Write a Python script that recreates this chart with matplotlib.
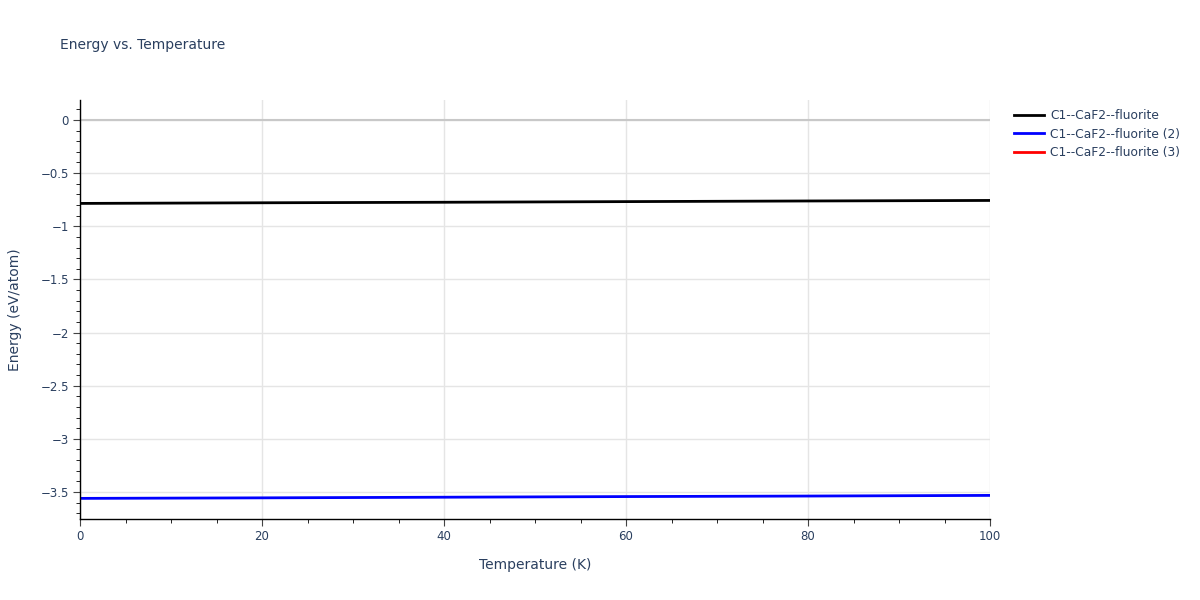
import matplotlib
matplotlib.use("Agg")
import matplotlib.pyplot as plt
from matplotlib.ticker import MultipleLocator, FuncFormatter

plt.rcParams['font.family'] = ['DejaVu Sans']

# data
temperature = [0, 20, 40, 60, 80, 100]
energy_1 = [-0.785, -0.779, -0.774, -0.768, -0.762, -0.757]
energy_2 = [-3.560, -3.555, -3.549, -3.543, -3.538, -3.532]
energy_3 = []
temperature_3 = []

names = ["C1--CaF2--fluorite", "C1--CaF2--fluorite (2)", "C1--CaF2--fluorite (3)"]
colors = ["black", "blue", "red"]

text_col = "#2a3f5f"
fig = plt.figure(figsize=(12, 6), dpi=100)
ax = fig.add_axes([80 / 1200, 1 - 519 / 600, 910 / 1200, 419 / 600])

ax.plot(temperature, energy_1, color=colors[0], lw=2, label=names[0])
ax.plot(temperature, energy_2, color=colors[1], lw=2, label=names[1])
ax.plot(temperature_3, energy_3, color=colors[2], lw=2, label=names[2])

ax.set_xlim(0, 100)
ax.set_ylim(-3.754, 0.188)

ax.xaxis.set_major_locator(MultipleLocator(20))
ax.xaxis.set_minor_locator(MultipleLocator(5))
ax.yaxis.set_major_locator(MultipleLocator(0.5))
ax.yaxis.set_minor_locator(MultipleLocator(0.1))

def fmt(v, pos):
    s = ("%g" % v)
    if s == "-0":
        s = "0"
    return s.replace("-", "\u2212")

ax.yaxis.set_major_formatter(FuncFormatter(fmt))
ax.xaxis.set_major_formatter(FuncFormatter(fmt))

ax.grid(True, which='major', color='#e5e5e5', lw=1)
ax.axhline(0, color='#c8c8c8', lw=1.5, zorder=1)
ax.set_axisbelow(True)

for s in ['top', 'right']:
    ax.spines[s].set_visible(False)
for s in ['left', 'bottom']:
    ax.spines[s].set_color('black')
    ax.spines[s].set_linewidth(1)

ax.tick_params(which='major', length=5, color='#444444', labelsize=8.5, labelcolor=text_col, pad=3)
ax.tick_params(which='minor', length=3, color='black')

ax.set_xlabel("Temperature (K)", fontsize=10, color=text_col, labelpad=11)
ax.set_ylabel("Energy (eV/atom)", fontsize=10, color=text_col, labelpad=13)

fig.text(60 / 1200, 1 - 45 / 600, "Energy vs. Temperature", fontsize=10,
         color=text_col, va='center', ha='left')

fig.legend(loc='upper left', bbox_to_anchor=(1003 / 1200, 1 - 98 / 600),
           frameon=False, fontsize=8.8, labelcolor=text_col, handlelength=2.45,
           handletextpad=0.5, labelspacing=0.47)

fig.savefig("out.png", dpi=100)
